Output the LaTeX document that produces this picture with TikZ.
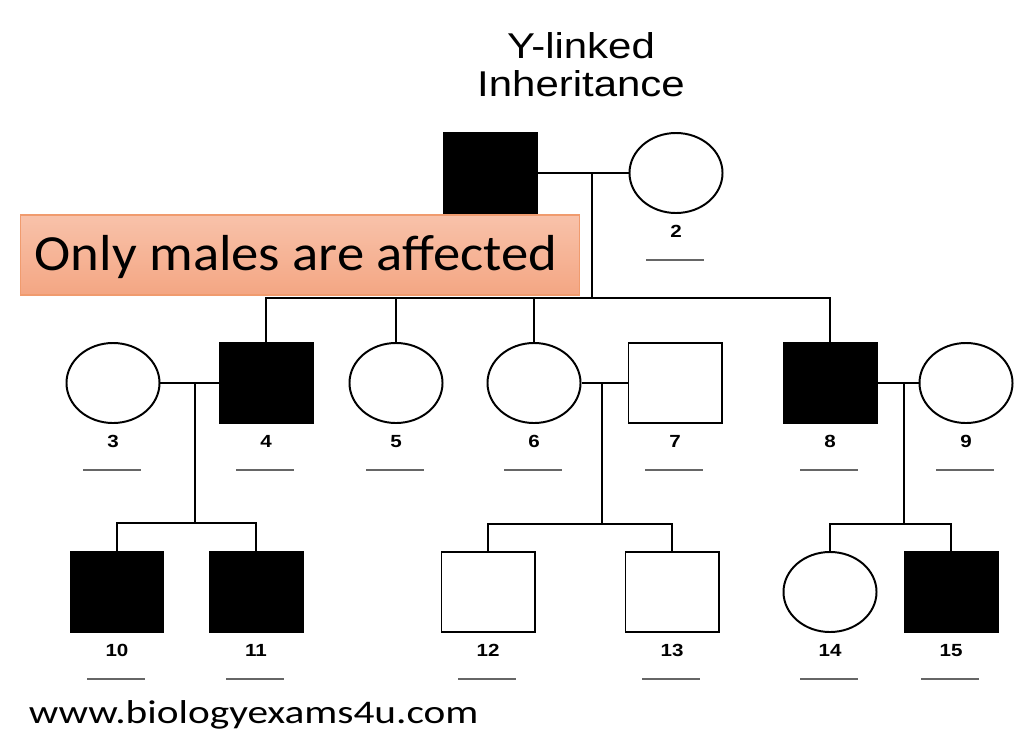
\documentclass[tikz,border=0pt]{standalone}
\usepackage{fontspec}
\setmainfont{Liberation Sans}
\newfontfamily\widesans[FakeStretch=1.17]{Liberation Sans}
\newfontfamily\noteface[FakeStretch=1.08]{Carlito}
\newfontfamily\siteface[FakeStretch=1.25]{Carlito}
\usetikzlibrary{shapes.geometric,calc}

\definecolor{notetop}{RGB}{248,194,170}
\definecolor{notebot}{RGB}{244,166,131}
\definecolor{noteline}{RGB}{240,155,110}

\begin{document}
\begin{tikzpicture}[x=0.025cm,y=-0.025cm,line width=1.4pt,
  male/.style={draw,rectangle,minimum width=2.325cm,minimum height=2cm,inner sep=0pt},
  female/.style={draw,ellipse,minimum width=2.325cm,minimum height=2cm,inner sep=0pt},
  sick/.style={fill=black},
  num/.style={font=\widesans\bfseries\fontsize{12.5}{14}\selectfont,inner sep=0pt},
  blank/.style={draw=black!60,line width=1.1pt}]

\useasboundingbox (0,0) rectangle (1024,744);

% Title
\node[font=\widesans\fontsize{25.5}{26.5}\selectfont,align=center,anchor=base] (title) at (581,96) {Y-linked\\Inheritance};

% Generation I
\node[male,sick] (p1) at (490,173) {};
\node[female] (p2) at (676,173) {};

% Generation II
\node[female] (p3) at (113,383) {};
\node[male,sick] (p4) at (266,383) {};
\node[female] (p5) at (396,383) {};
\node[female] (p6) at (534,383) {};
\node[male] (p7) at (675,383) {};
\node[male,sick] (p8) at (830,383) {};
\node[female] (p9) at (966,383) {};

% Generation III
\node[male,sick] (p10) at (117,592) {};
\node[male,sick] (p11) at (256,592) {};
\node[male] (p12) at (488,592) {};
\node[male] (p13) at (672,592) {};
\node[female] (p14) at (830,592) {};
\node[male,sick] (p15) at (951,592) {};

% numbers and blanks under each person
\foreach \i in {2,...,15}{
  \node[num,anchor=base] (l\i) at ($(p\i)+(0,64)$) {\i};
  \draw[blank] ($(p\i)+(-30,87)$) coordinate (u\i) -- ++(58,0);
}

% Matings and sibships
\draw (p1.east) -- (p2.west);
\coordinate (m1) at ($(p1.east)!0.6!(p2.west)$);
\draw (m1) -- ++(0,125) coordinate (s1);
\draw (p4.north) -- (p4.north |- s1) -- (p8.north |- s1) -- (p8.north);
\draw (p5.north) -- (p5.north |- s1);
\draw (p6.north) -- (p6.north |- s1);

\draw (p3.east) -- (p4.west);
\coordinate (m2) at ($(p3.east)!0.6!(p4.west)$);
\draw (m2) -- ++(0,140) coordinate (s2);
\draw (p10.north) -- (p10.north |- s2) -- (p11.north |- s2) -- (p11.north);

\draw (p6.east) -- (p7.west);
\coordinate (m3) at ($(p6.east)!0.45!(p7.west)$);
\draw (m3) -- ++(0,141) coordinate (s3);
\draw (p12.north) -- (p12.north |- s3) -- (p13.north |- s3) -- (p13.north);

\draw (p8.east) -- (p9.west);
\coordinate (m4) at ($(p8.east)!0.64!(p9.west)$);
\draw (m4) -- ++(0,141) coordinate (s4);
\draw (p14.north) -- (p14.north |- s4) -- (p15.north |- s4) -- (p15.north);

% Note box and website
\node[draw=noteline,line width=0.8pt,top color=notetop,bottom color=notebot,
  minimum width=13.95cm,minimum height=2cm,inner sep=0pt] (note) at (300,255) {};
\node[font=\noteface\fontsize{36}{40}\selectfont,anchor=base,inner sep=0pt] (notetext) at (296,270) {Only males are affected};
\node[font=\siteface\fontsize{23.5}{26}\selectfont,anchor=base west,inner sep=0pt] (site) at (28,723) {www.biologyexams4u.com};
\end{tikzpicture}
\end{document}
